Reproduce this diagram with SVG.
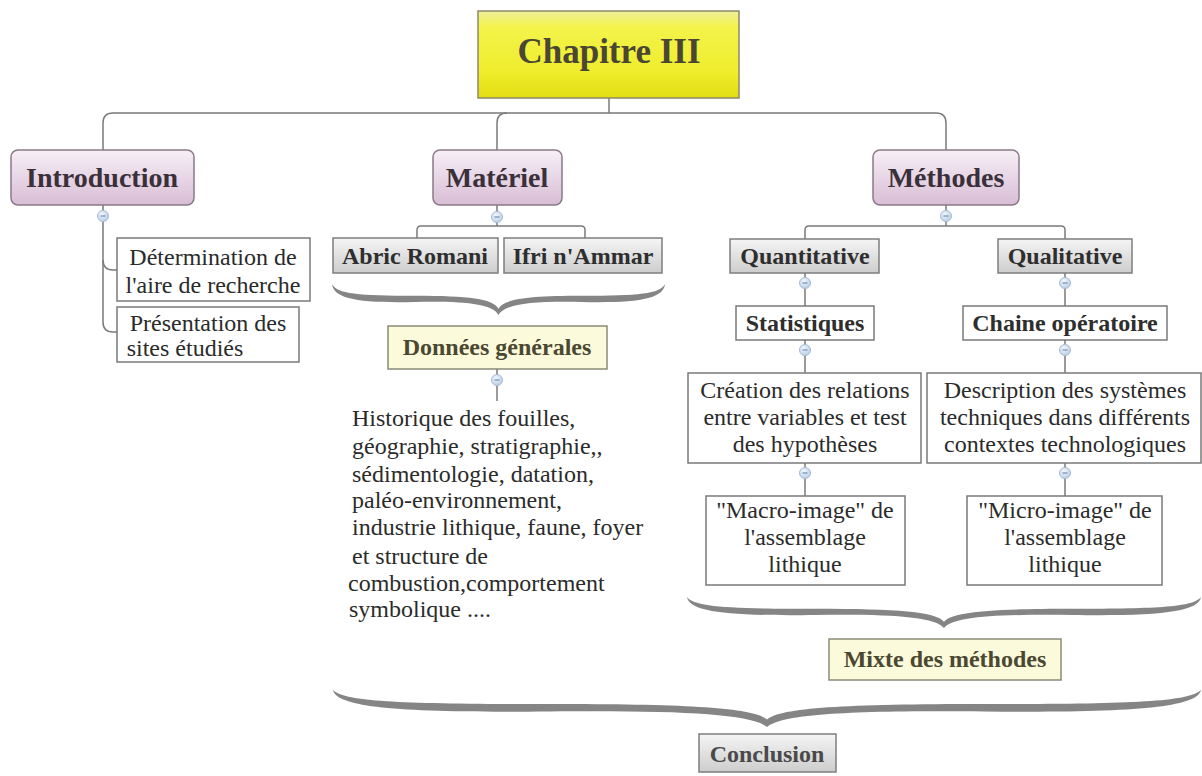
<svg xmlns="http://www.w3.org/2000/svg" xmlns:xlink="http://www.w3.org/1999/xlink" width="1202" height="776" viewBox="0 0 1202 776">
  <defs>
    <linearGradient id="gRoot" x1="0" y1="0" x2="0" y2="1">
      <stop offset="0" stop-color="#efef9c"/>
      <stop offset="0.18" stop-color="#f3f34c"/>
      <stop offset="0.7" stop-color="#efed2c"/>
      <stop offset="1" stop-color="#e2dc12"/>
    </linearGradient>
    <linearGradient id="gPink" x1="0" y1="0" x2="0" y2="1">
      <stop offset="0" stop-color="#f7eff6"/>
      <stop offset="1" stop-color="#d8bdd5"/>
    </linearGradient>
    <linearGradient id="gGray" x1="0" y1="0" x2="0" y2="1">
      <stop offset="0" stop-color="#f5f5f5"/>
      <stop offset="1" stop-color="#cdcdcd"/>
    </linearGradient>
    <radialGradient id="gKnob" cx="0.4" cy="0.35" r="0.7">
      <stop offset="0" stop-color="#f2f7fd"/>
      <stop offset="1" stop-color="#b7cbe4"/>
    </radialGradient>
    <!-- horizontal curly brace in a 1000 x 100 box, tips at top, point at bottom centre -->
    <path id="brace" d="M0,0 C4,48 80,62 250,58 C400,55 482,64 500,100 C518,64 600,55 750,58 C920,62 996,48 1000,0 C986,32 920,38 750,38 C590,38 515,48 500,80 C485,48 410,38 250,38 C80,38 14,32 0,0 Z"/>
    <g id="knob">
      <circle r="5.5" fill="url(#gKnob)" stroke="#a6bcd6" stroke-width="1"/>
      <line x1="-2.5" y1="0" x2="2.5" y2="0" stroke="#6f8db0" stroke-width="1.2"/>
    </g>
  </defs>
  <style>
    text { font-family: "Liberation Serif", "Times New Roman", serif; }
    .root { fill: url(#gRoot); stroke: #8c8a6a; stroke-width: 1.5; }
    .pink { fill: url(#gPink); stroke: #8a7a88; stroke-width: 1.5; }
    .gray { fill: url(#gGray); stroke: #7e7e7e; stroke-width: 1.5; }
    .plain { fill: #ffffff; stroke: #7a7a7a; stroke-width: 1.5; }
    .pale { fill: #fbfbdc; stroke: #8a8a78; stroke-width: 1.5; }
    .t-root { font-size: 35px; font-weight: bold; fill: #4a4634; text-anchor: middle; }
    .t-main { font-size: 28px; font-weight: bold; fill: #3a3039; text-anchor: middle; }
    .t-sub { font-size: 24px; font-weight: bold; fill: #2e2e2e; text-anchor: middle; }
    .t-olive { font-size: 24px; font-weight: bold; fill: #4b4832; text-anchor: middle; }
    .t-concl { font-size: 24px; font-weight: bold; fill: #4a4a4a; text-anchor: middle; }
    .t-body { font-size: 24px; fill: #2b2b2b; text-anchor: middle; }
    .t-para { font-size: 24px; fill: #2b2b2b; }
    .conn { fill: none; stroke: #7a7a7a; stroke-width: 1.5; }
    .brace { fill: #858585; }
  </style>

  <rect width="1202" height="776" fill="#ffffff"/>

  <!-- connectors -->
  <g id="connectors">
    <path class="conn" d="M609,98 L609,113"/>
    <path class="conn" d="M103,150 L103,123 Q103,113 113,113 L936,113 Q946,113 946,123 L946,150"/>
    <path class="conn" d="M507,113 Q497,113 497,123 L497,150"/>
    <!-- Introduction -->
    <path class="conn" d="M103,205 L103,322 Q103,332 113,332 L117,332"/>
    <path class="conn" d="M103,260 Q103,270 113,270 L117,270"/>
    <!-- Matériel -->
    <path class="conn" d="M497,205 L497,226"/>
    <path class="conn" d="M417,238 L417,230 Q417,226 421,226 L581,226 Q585,226 585,230 L585,238"/>
    <!-- Données générales -->
    <path class="conn" d="M497,369 L497,401"/>
    <!-- Méthodes -->
    <path class="conn" d="M946,205 L946,226"/>
    <path class="conn" d="M805,239 L805,230 Q805,226 809,226 L1061,226 Q1065,226 1065,230 L1065,239"/>
    <path class="conn" d="M805,273 L805,306 M805,340 L805,373 M805,463 L805,496"/>
    <path class="conn" d="M1065,273 L1065,306 M1065,340 L1065,373 M1065,463 L1065,496"/>
    <!-- braces -->
    <use href="#brace" class="brace" transform="translate(332,284) scale(0.333,0.31)"/>
    <use href="#brace" class="brace" transform="translate(687,597) scale(0.514,0.31)"/>
    <use href="#brace" class="brace" transform="translate(333,690) scale(0.868,0.37)"/>
    <!-- collapse knobs -->
    <use href="#knob" x="103" y="216"/>
    <use href="#knob" x="497" y="217"/>
    <use href="#knob" x="946" y="216"/>
    <use href="#knob" x="497" y="380"/>
    <use href="#knob" x="805" y="283"/>
    <use href="#knob" x="1065" y="283"/>
    <use href="#knob" x="805" y="350"/>
    <use href="#knob" x="1065" y="350"/>
    <use href="#knob" x="805" y="473"/>
    <use href="#knob" x="1065" y="473"/>
  </g>

  <g id="chapitre">
    <rect class="root" x="478" y="11" width="261" height="87"/>
    <text class="t-root" x="609" y="63">Chapitre III</text>
  </g>

  <g id="introduction">
    <rect class="pink" x="11" y="150" width="183" height="55" rx="7"/>
    <text class="t-main" x="102" y="187">Introduction</text>
  </g>
  <g id="determination">
    <rect class="plain" x="117" y="238" width="193" height="63"/>
    <text class="t-body" x="213" y="265">Détermination de</text>
    <text class="t-body" x="213" y="293">l'aire de recherche</text>
  </g>
  <g id="presentation">
    <rect class="plain" x="117" y="307" width="182" height="55"/>
    <text class="t-body" x="208" y="331">Présentation des</text>
    <text class="t-body" x="185" y="356">sites étudiés</text>
  </g>

  <g id="materiel">
    <rect class="pink" x="433" y="150" width="129" height="55" rx="7"/>
    <text class="t-main" x="497" y="187">Matériel</text>
  </g>
  <g id="abric-romani">
    <rect class="gray" x="333" y="238" width="165" height="35"/>
    <text class="t-sub" x="415" y="264">Abric Romani</text>
  </g>
  <g id="ifri-nammar">
    <rect class="gray" x="504" y="238" width="158" height="35"/>
    <text class="t-sub" x="583" y="264">Ifri n'Ammar</text>
  </g>
  <g id="donnees-generales">
    <rect class="pale" x="388" y="326" width="219" height="43"/>
    <text class="t-olive" x="497" y="355">Données générales</text>
  </g>
  <g id="donnees-detail">
    <text class="t-para" x="352" y="426">Historique des fouilles,</text>
    <text class="t-para" x="352" y="454">géographie, stratigraphie,,</text>
    <text class="t-para" x="352" y="482">sédimentologie, datation,</text>
    <text class="t-para" x="352" y="508">paléo-environnement,</text>
    <text class="t-para" x="352" y="535">industrie lithique, faune, foyer</text>
    <text class="t-para" x="352" y="564">et structure de</text>
    <text class="t-para" x="348" y="591">combustion,comportement</text>
    <text class="t-para" x="349" y="617">symbolique ....</text>
  </g>

  <g id="methodes">
    <rect class="pink" x="873" y="150" width="146" height="55" rx="7"/>
    <text class="t-main" x="946" y="187">Méthodes</text>
  </g>
  <g id="quantitative">
    <rect class="gray" x="730" y="239" width="149" height="34"/>
    <text class="t-sub" x="805" y="264">Quantitative</text>
  </g>
  <g id="qualitative">
    <rect class="gray" x="998" y="239" width="134" height="34"/>
    <text class="t-sub" x="1065" y="264">Qualitative</text>
  </g>
  <g id="statistiques">
    <rect class="plain" x="736" y="306" width="138" height="34"/>
    <text class="t-sub" x="805" y="331">Statistiques</text>
  </g>
  <g id="chaine-operatoire">
    <rect class="plain" x="963" y="306" width="204" height="34"/>
    <text class="t-sub" x="1065" y="331">Chaine opératoire</text>
  </g>
  <g id="creation-relations">
    <rect class="plain" x="688" y="373" width="233" height="90"/>
    <text class="t-body" x="805" y="398">Création des relations</text>
    <text class="t-body" x="805" y="425">entre variables et test</text>
    <text class="t-body" x="805" y="452">des hypothèses</text>
  </g>
  <g id="description-systemes">
    <rect class="plain" x="927" y="373" width="274" height="90"/>
    <text class="t-body" x="1065" y="398">Description des systèmes</text>
    <text class="t-body" x="1065" y="425">techniques dans différents</text>
    <text class="t-body" x="1065" y="452">contextes technologiques</text>
  </g>
  <g id="macro-image">
    <rect class="plain" x="706" y="496" width="199" height="89"/>
    <text class="t-body" x="805" y="518">"Macro-image" de</text>
    <text class="t-body" x="805" y="545">l'assemblage</text>
    <text class="t-body" x="805" y="572">lithique</text>
  </g>
  <g id="micro-image">
    <rect class="plain" x="967" y="496" width="195" height="89"/>
    <text class="t-body" x="1065" y="518">"Micro-image" de</text>
    <text class="t-body" x="1065" y="545">l'assemblage</text>
    <text class="t-body" x="1065" y="572">lithique</text>
  </g>
  <g id="mixte-methodes">
    <rect class="pale" x="829" y="639" width="232" height="41"/>
    <text class="t-olive" x="945" y="667">Mixte des méthodes</text>
  </g>

  <g id="conclusion">
    <rect class="gray" x="699" y="734" width="137" height="38"/>
    <text class="t-concl" x="767" y="762">Conclusion</text>
  </g>
</svg>
